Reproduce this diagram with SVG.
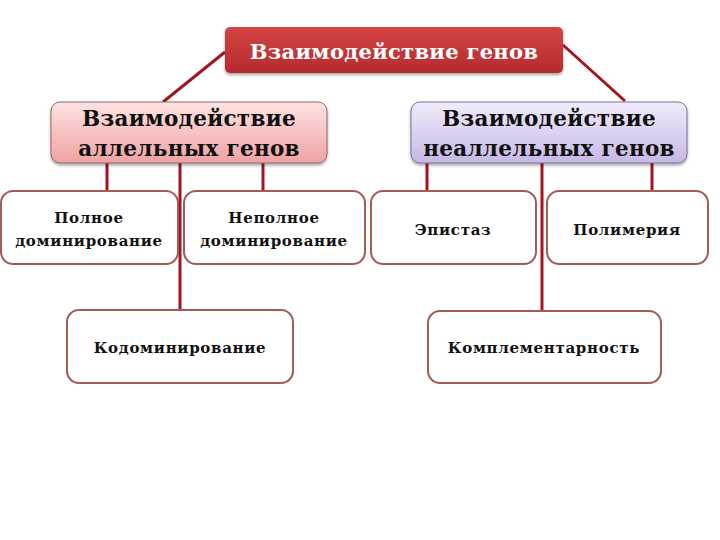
<svg xmlns="http://www.w3.org/2000/svg" width="720" height="540" viewBox="0 0 720 540">
<defs>
<linearGradient id="gRed" x1="0" y1="0" x2="0" y2="1"><stop offset="0" stop-color="#d54545"/><stop offset="1" stop-color="#b52a2c"/></linearGradient>
<linearGradient id="gPink" x1="0" y1="0" x2="0" y2="1"><stop offset="0" stop-color="#fde3e3"/><stop offset="1" stop-color="#f0a2a2"/></linearGradient>
<linearGradient id="gLav" x1="0" y1="0" x2="0" y2="1"><stop offset="0" stop-color="#f0ecfc"/><stop offset="1" stop-color="#c6b8e6"/></linearGradient>
<filter id="sh" x="-10%" y="-20%" width="120%" height="150%"><feDropShadow dx="0" dy="2" stdDeviation="1.5" flood-color="#000" flood-opacity="0.35"/></filter>
</defs>
<style>
.t{font-family:"DejaVu Serif","Liberation Serif",serif;font-weight:bold;text-anchor:middle}
.top{fill:#fff;font-size:21px;letter-spacing:0.3px}
.mid{fill:#111;font-size:21.5px;letter-spacing:0.3px}
.leaf{fill:#111;font-size:15px;letter-spacing:0.7px}
.con{stroke:#a3141e;stroke-width:3;fill:none}
.leafbox{fill:#fff;stroke:#a55a5a;stroke-width:2}
</style>
<rect width="720" height="540" fill="#fff"/>
<g id="connectors">
<line class="con" x1="225" y1="52" x2="163" y2="102"/>
<line class="con" x1="563" y1="45" x2="625" y2="101"/>
<line class="con" x1="107" y1="163" x2="107" y2="191"/>
<line class="con" x1="180" y1="163" x2="180" y2="310"/>
<line class="con" x1="263" y1="163" x2="263" y2="191"/>
<line class="con" x1="427" y1="163" x2="427" y2="191"/>
<line class="con" x1="542" y1="163" x2="542" y2="311"/>
<line class="con" x1="652" y1="163" x2="652" y2="191"/>
</g>
<g id="root">
<rect x="225" y="27" width="338" height="46" rx="5" fill="url(#gRed)" filter="url(#sh)"/>
<text class="t top" x="394" y="59">Взаимодействие генов</text>
</g>
<g id="allelic">
<rect x="51" y="102" width="276" height="61" rx="9" fill="url(#gPink)" stroke="#8a6a6a" stroke-width="1" filter="url(#sh)"/>
<text class="t mid" x="189" y="126">Взаимодействие</text>
<text class="t mid" x="189" y="156">аллельных генов</text>
</g>
<g id="nonallelic">
<rect x="411" y="102" width="276" height="61" rx="9" fill="url(#gLav)" stroke="#7a7090" stroke-width="1" filter="url(#sh)"/>
<text class="t mid" x="549" y="126">Взаимодействие</text>
<text class="t mid" x="549" y="156">неаллельных генов</text>
</g>
<g id="full">
<rect class="leafbox" x="1" y="191" width="177" height="73" rx="12"/>
<text class="t leaf" x="89" y="223">Полное</text>
<text class="t leaf" x="89" y="246">доминирование</text>
</g>
<g id="incomplete">
<rect class="leafbox" x="184" y="191" width="181" height="73" rx="12"/>
<text class="t leaf" x="274" y="223">Неполное</text>
<text class="t leaf" x="274" y="246">доминирование</text>
</g>
<g id="epistasis">
<rect class="leafbox" x="371" y="191" width="165" height="73" rx="12"/>
<text class="t leaf" x="453" y="235">Эпистаз</text>
</g>
<g id="polymery">
<rect class="leafbox" x="547" y="191" width="161" height="73" rx="12"/>
<text class="t leaf" x="627" y="235">Полимерия</text>
</g>
<g id="codominance">
<rect class="leafbox" x="67" y="310" width="226" height="73" rx="12"/>
<text class="t leaf" x="180" y="353">Кодоминирование</text>
</g>
<g id="complementarity">
<rect class="leafbox" x="428" y="311" width="233" height="72" rx="12"/>
<text class="t leaf" x="544" y="353">Комплементарность</text>
</g>
</svg>
